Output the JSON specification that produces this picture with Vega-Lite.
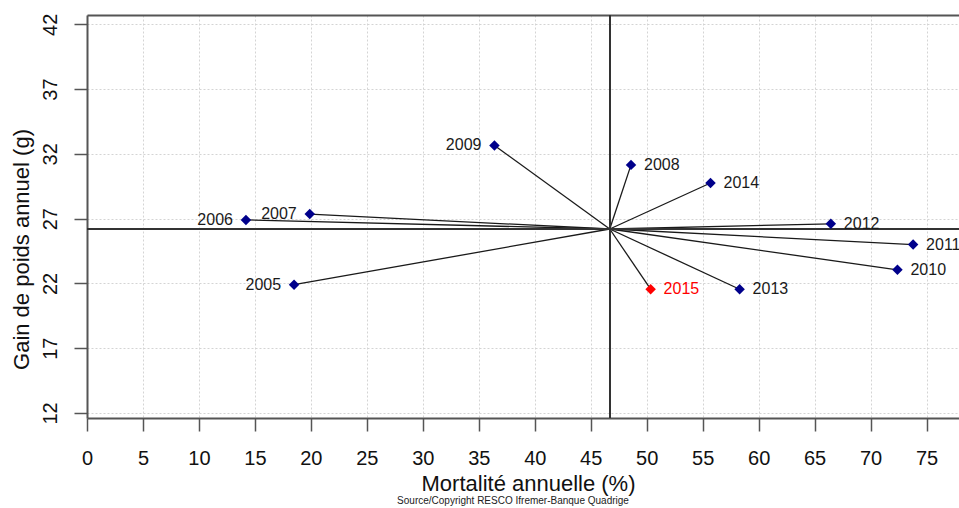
{
  "$schema": "https://vega.github.io/schema/vega-lite/v6.json",
  "width": 872,
  "height": 403,
  "autosize": {"type": "none"},
  "padding": {"left": 87, "top": 15, "right": 0, "bottom": 90},
  "background": "white",
  "config": {"font": "Liberation Sans", "view": {"stroke": null}},
  "title": {"text": "Source/Copyright RESCO Ifremer-Banque Quadrige", "orient": "bottom", "fontSize": 10, "fontWeight": "normal", "color": "#222", "offset": 2, "dx": -10, "anchor": "middle"},
  "data": {"values": [
    {"year": 2005, "mort": 18.5, "gain": 21.9},
    {"year": 2006, "mort": 14.2, "gain": 26.9},
    {"year": 2007, "mort": 19.9, "gain": 27.35},
    {"year": 2008, "mort": 48.6, "gain": 31.15},
    {"year": 2009, "mort": 36.4, "gain": 32.65},
    {"year": 2010, "mort": 72.4, "gain": 23.05},
    {"year": 2011, "mort": 73.8, "gain": 25.0},
    {"year": 2012, "mort": 66.45, "gain": 26.6},
    {"year": 2013, "mort": 58.3, "gain": 21.55},
    {"year": 2014, "mort": 55.7, "gain": 29.75},
    {"year": 2015, "mort": 50.35, "gain": 21.55}
  ]},
  "resolve": {"axis": {"x": "independent"}},
  "layer": [
    {
      "mark": {"type": "rule", "color": "#1a1a1a", "strokeWidth": 1.3},
      "encoding": {
        "x": {"field": "mort", "type": "quantitative", "title": "Mortalité annuelle (%)",
          "scale": {"domain": [0, 77.9], "nice": false, "zero": false},
          "axis": {"orient": "bottom", "values": [0,5,10,15,20,25,30,35,40,45,50,55,60,65,70,75],
            "domainColor": "#555", "domainWidth": 2, "tickColor": "#555", "tickWidth": 1.5, "tickSize": 13,
            "labelFontSize": 20, "labelColor": "#111", "labelPadding": 17, "labelFlush": false,
            "titleFontSize": 22, "titleFontWeight": "normal", "titleColor": "#111", "titlePadding": 5, "titleX": 441,
            "grid": true, "gridColor": "#d4d4d4", "gridDash": [2, 2], "gridWidth": 1}},
        "y": {"field": "gain", "type": "quantitative", "title": "Gain de poids annuel (g)",
          "scale": {"domain": [11.61, 42.72], "nice": false, "zero": false},
          "axis": {"values": [12,17,22,27,32,37,42],
            "domainColor": "#555", "domainWidth": 2, "tickColor": "#555", "tickWidth": 1.5, "tickSize": 13,
            "labelFontSize": 20, "labelColor": "#111", "labelAngle": -90, "labelAlign": "center", "labelBaseline": "alphabetic", "labelPadding": 18,
            "titleFontSize": 22, "titleFontWeight": "normal", "titleColor": "#111", "titleAngle": 270, "titleAlign": "center", "titleBaseline": "alphabetic", "titleX": -59, "titleY": 234,
            "grid": true, "gridColor": "#d4d4d4", "gridDash": [2, 2], "gridWidth": 1}},
        "x2": {"datum": 46.7},
        "y2": {"datum": 26.2}
      }
    },
    {
      "mark": {"type": "rule", "color": "#333", "strokeWidth": 1.4},
      "encoding": {
        "x": {"datum": 46.7, "type": "quantitative",
          "axis": {"orient": "top", "labels": false, "ticks": false, "grid": false, "title": null, "domainColor": "#555", "domainWidth": 2}}
      }
    },
    {
      "mark": {"type": "rule", "color": "#333", "strokeWidth": 1.4},
      "encoding": {
        "y": {"datum": 26.2, "type": "quantitative", "title": "Gain de poids annuel (g)"}
      }
    },
    {
      "mark": {"type": "point", "shape": "diamond", "filled": true, "size": 110, "opacity": 1},
      "encoding": {
        "x": {"field": "mort", "type": "quantitative", "axis": null},
        "y": {"field": "gain", "type": "quantitative", "title": "Gain de poids annuel (g)"},
        "color": {"condition": {"test": "datum.year === 2015", "value": "#ff0000"}, "value": "#00008b"}
      }
    },
    {
      "transform": [{"filter": {"field": "year", "oneOf": [2008, 2010, 2011, 2012, 2013, 2014, 2015]}}],
      "mark": {"type": "text", "align": "left", "baseline": "middle", "dx": 13, "fontSize": 16},
      "encoding": {
        "x": {"field": "mort", "type": "quantitative", "axis": null},
        "y": {"field": "gain", "type": "quantitative", "title": "Gain de poids annuel (g)"},
        "text": {"field": "year", "type": "nominal"},
        "color": {"condition": {"test": "datum.year === 2015", "value": "#ff0000"}, "value": "#1a1a1a"}
      }
    },
    {
      "transform": [{"filter": {"field": "year", "oneOf": [2005, 2006, 2007, 2009]}}],
      "mark": {"type": "text", "align": "right", "baseline": "middle", "dx": -13, "fontSize": 16, "color": "#1a1a1a"},
      "encoding": {
        "x": {"field": "mort", "type": "quantitative", "axis": null},
        "y": {"field": "gain", "type": "quantitative", "title": "Gain de poids annuel (g)"},
        "text": {"field": "year", "type": "nominal"}
      }
    }
  ]
}
